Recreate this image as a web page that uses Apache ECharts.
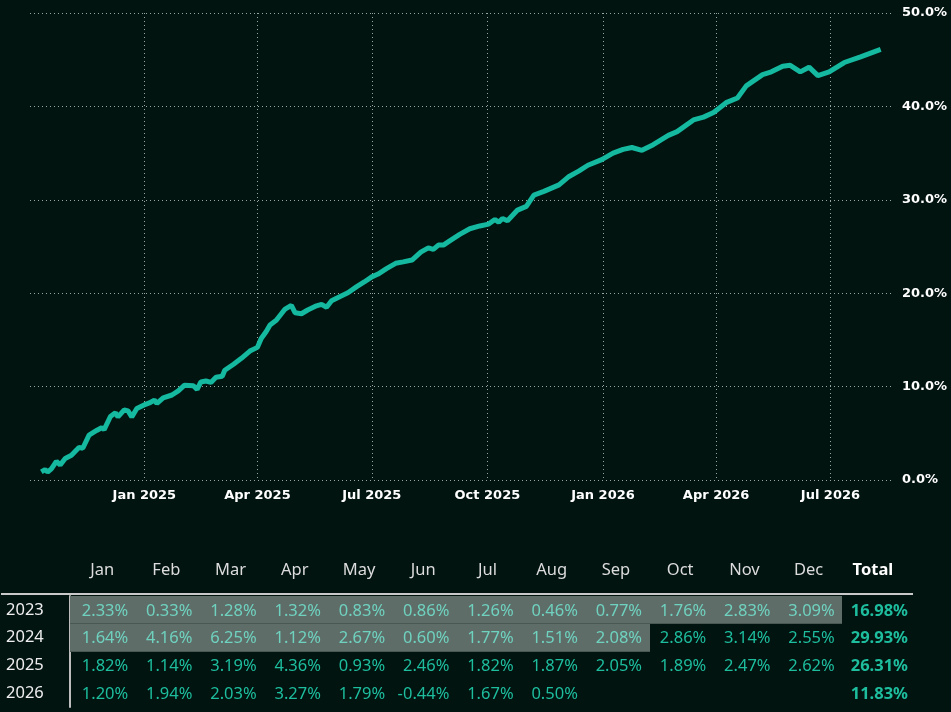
<!DOCTYPE html>
<html>
<head>
<meta charset="utf-8">
<script src="https://cdn.jsdelivr.net/npm/echarts@6/dist/echarts.min.js"></script>
<style>
  html, body { margin: 0; padding: 0; background: #021410; }
  #main { width: 951px; height: 712px; }
</style>
</head>
<body>
<div id="main"></div>
<script>
// cumulative return curve (%)
var lineDates = [
  '2024-10-11', '2024-10-14', '2024-10-16', '2024-10-19', '2024-10-23', '2024-10-26', '2024-10-30',
  '2024-11-04', '2024-11-08', '2024-11-10', '2024-11-13', '2024-11-18', '2024-11-24', '2024-11-28', '2024-11-30',
  '2024-12-05', '2024-12-09', '2024-12-11', '2024-12-16', '2024-12-19', '2024-12-22', '2024-12-26',
  '2025-01-02', '2025-01-05', '2025-01-09', '2025-01-11', '2025-01-16', '2025-01-23', '2025-01-28',
  '2025-02-02', '2025-02-09', '2025-02-12', '2025-02-15', '2025-02-19', '2025-02-23', '2025-02-27',
  '2025-03-04', '2025-03-06', '2025-03-13', '2025-03-19', '2025-03-26',
  '2025-04-01', '2025-04-04', '2025-04-08', '2025-04-11', '2025-04-16', '2025-04-23', '2025-04-28',
  '2025-05-01', '2025-05-06', '2025-05-11', '2025-05-18', '2025-05-22', '2025-05-26', '2025-05-30',
  '2025-06-05', '2025-06-12', '2025-06-19', '2025-06-25',
  '2025-07-01', '2025-07-06', '2025-07-13', '2025-07-20', '2025-07-26',
  '2025-08-02', '2025-08-09', '2025-08-15', '2025-08-19', '2025-08-23', '2025-08-27',
  '2025-09-01', '2025-09-09', '2025-09-17', '2025-09-25',
  '2025-10-02', '2025-10-07', '2025-10-10', '2025-10-13', '2025-10-17', '2025-10-25',
  '2025-11-01', '2025-11-07', '2025-11-15', '2025-11-27',
  '2025-12-05', '2025-12-13', '2025-12-20', '2025-12-31',
  '2026-01-09', '2026-01-17', '2026-01-24',
  '2026-02-01', '2026-02-10', '2026-02-22',
  '2026-03-01', '2026-03-14', '2026-03-22', '2026-03-30',
  '2026-04-09', '2026-04-18', '2026-04-25',
  '2026-05-08', '2026-05-15', '2026-05-24', '2026-05-30',
  '2026-06-07', '2026-06-14', '2026-06-21', '2026-06-30',
  '2026-07-12', '2026-07-25', '2026-08-10'
];
var lineValues = [
  0.86, 1.1, 0.86, 1.2, 2.0, 1.6, 2.3,
  2.65, 3.2, 3.5, 3.4, 4.8, 5.3, 5.6, 5.4,
  6.8, 7.2, 6.75, 7.5, 7.4, 6.75, 7.65,
  8.1, 8.25, 8.55, 8.2, 8.8, 9.1, 9.55,
  10.15, 10.1, 9.7, 10.5, 10.6, 10.45, 11.0,
  11.1, 11.75, 12.4, 13.0, 13.8,
  14.2, 15.15, 15.9, 16.6, 17.1, 18.3, 18.7,
  17.9, 17.8, 18.2, 18.65, 18.8, 18.5, 19.2,
  19.6, 20.05, 20.7, 21.2,
  21.75, 22.05, 22.65, 23.2, 23.35,
  23.55, 24.4, 24.85, 24.7, 25.15, 25.15,
  25.6, 26.3, 26.9, 27.2,
  27.4, 27.9, 27.6, 28.0, 27.75, 28.9,
  29.3, 30.5, 30.9, 31.6,
  32.5, 33.1, 33.7, 34.3,
  35.0, 35.4, 35.6,
  35.3, 35.9, 36.9,
  37.3, 38.55, 38.85, 39.35,
  40.4, 40.9, 42.2,
  43.4, 43.7, 44.3, 44.4,
  43.7, 44.2, 43.3, 43.7,
  44.7, 45.3, 46.1
];
var yTicks = [0, 10, 20, 30, 40, 50];

// monthly returns table (%)
var months = ['Jan', 'Feb', 'Mar', 'Apr', 'May', 'Jun', 'Jul', 'Aug', 'Sep', 'Oct', 'Nov', 'Dec'];
var years = ['2023', '2024', '2025', '2026'];
var returns2023 = [2.33, 0.33, 1.28, 1.32, 0.83, 0.86, 1.26, 0.46, 0.77, 1.76, 2.83, 3.09];
var returns2024 = [1.64, 4.16, 6.25, 1.12, 2.67, 0.60, 1.77, 1.51, 2.08, 2.86, 3.14, 2.55];
var returns2025 = [1.82, 1.14, 3.19, 4.36, 0.93, 2.46, 1.82, 1.87, 2.05, 1.89, 2.47, 2.62];
var returns2026 = [1.20, 1.94, 2.03, 3.27, 1.79, -0.44, 1.67, 0.50, null, null, null, null];
var yearTotals = [16.98, 29.93, 26.31, 11.83];
// months before the live curve starts are shaded
var liveStart = '2024-10';

var yearReturns = [returns2023, returns2024, returns2025, returns2026];
var tableCols = months.concat(['Total']);
var tableData = [];
yearReturns.forEach(function (arr, r) {
  arr.forEach(function (v, c) {
    if (v === null) return;
    var key = years[r] + '-' + (c < 9 ? '0' : '') + (c + 1);
    tableData.push([c, r, v, 0, key < liveStart ? 1 : 0]);
  });
  tableData.push([12, r, yearTotals[r], 1, 0]);
});

var FONT = '"Noto Sans", "Open Sans", sans-serif';
var AXIS_FONT = '"DejaVu Sans", sans-serif';

function renderCell(params, api) {
  var col = api.value(0), row = api.value(1), v = api.value(2);
  var isTotal = api.value(3) === 1, shaded = api.value(4) === 1;
  var c = api.coord([col, row]);
  var s = api.size([1, 1]);
  var children = [];
  if (shaded) {
    var x0 = Math.floor(c[0] - s[0] / 2), x1 = Math.ceil(c[0] + s[0] / 2);
    var y0 = Math.round(c[1] - s[1] / 2), y1 = Math.round(c[1] + s[1] / 2);
    children.push({
      type: 'rect',
      shape: { x: x0, y: y0, width: x1 - x0 + 1, height: y1 - y0 },
      style: { fill: '#5f6d69' }
    }, {
      type: 'rect',
      shape: { x: x0, y: y1 - 1, width: x1 - x0 + 1, height: 1 },
      style: { fill: '#4a5854' }
    });
  }
  children.push({
    type: 'text',
    x: c[0] + s[0] / 2 + (isTotal ? 3 : -6),
    y: c[1] + 1,
    style: {
      text: v.toFixed(2) + '%',
      align: 'right',
      verticalAlign: 'middle',
      fill: shaded ? '#6fd2bf' : '#1dbd9e',
      font: (isTotal ? 'bold ' : '') + '16.5px ' + FONT
    }
  });
  return { type: 'group', children: children };
}

var myChart = echarts.init(document.getElementById('main'));
var dotted = { color: '#9aa6a2', type: [1, 3], width: 1 };
var option = {
  backgroundColor: '#021410',
  animation: false,
  textStyle: { fontFamily: FONT },
  grid: [
    { left: 30, right: 59, top: 13, bottom: 232 },
    { left: 70, right: 46, top: 596, bottom: 5 }
  ],
  graphic: [{
    type: 'line',
    shape: { x1: 1, y1: 594, x2: 913, y2: 594 },
    style: { stroke: '#c9c9c9', lineWidth: 2 }
  }],
  xAxis: [{
    gridIndex: 0,
    type: 'time',
    min: '2024-10-02',
    max: '2026-08-19',
    splitNumber: 7,
    axisLine: { show: false },
    axisTick: { show: false },
    axisLabel: {
      formatter: '{MMM} {yyyy}',
      color: '#ffffff',
      fontFamily: AXIS_FONT,
      fontWeight: 'bold',
      fontSize: 13,
      margin: 9
    },
    splitLine: { show: true, showMinLine: false, showMaxLine: false, lineStyle: dotted }
  }, {
    gridIndex: 1,
    type: 'category',
    position: 'top',
    data: tableCols,
    axisLine: { show: false },
    axisTick: { show: false },
    splitLine: { show: false },
    axisLabel: {
      interval: 0,
      margin: 17,
      color: '#dcdcdc',
      fontSize: 16.5,
      formatter: function (v) { return v === 'Total' ? '{b|Total}' : v; },
      rich: { b: { fontWeight: 'bold', color: '#ffffff', fontSize: 16.5 } }
    }
  }],
  yAxis: [{
    gridIndex: 0,
    type: 'value',
    position: 'right',
    min: yTicks[0],
    max: yTicks[yTicks.length - 1],
    interval: 10,
    axisLine: { show: false },
    axisTick: { show: false },
    axisLabel: {
      formatter: function (v) { return v.toFixed(1) + '%'; },
      color: '#ffffff',
      fontFamily: AXIS_FONT,
      fontWeight: 'bold',
      fontSize: 13,
      margin: 10
    },
    splitLine: { show: true, lineStyle: dotted }
  }, {
    gridIndex: 1,
    type: 'category',
    inverse: true,
    data: years,
    axisLine: { show: true, lineStyle: { color: '#bdbdbd', width: 2 } },
    axisTick: { show: false },
    splitLine: { show: false },
    axisLabel: { interval: 0, align: 'left', margin: 64, color: '#eeeeee', fontSize: 16.5 }
  }],
  series: [{
    type: 'line',
    xAxisIndex: 0,
    yAxisIndex: 0,
    showSymbol: false,
    data: lineDates.map(function (d, i) { return [d, lineValues[i]]; }),
    lineStyle: { color: '#14b99f', width: 5 },
    itemStyle: { color: '#14b99f' }
  }, {
    type: 'custom',
    xAxisIndex: 1,
    yAxisIndex: 1,
    renderItem: renderCell,
    data: tableData,
    z: 3
  }]
};
myChart.setOption(option);
</script>
</body>
</html>
